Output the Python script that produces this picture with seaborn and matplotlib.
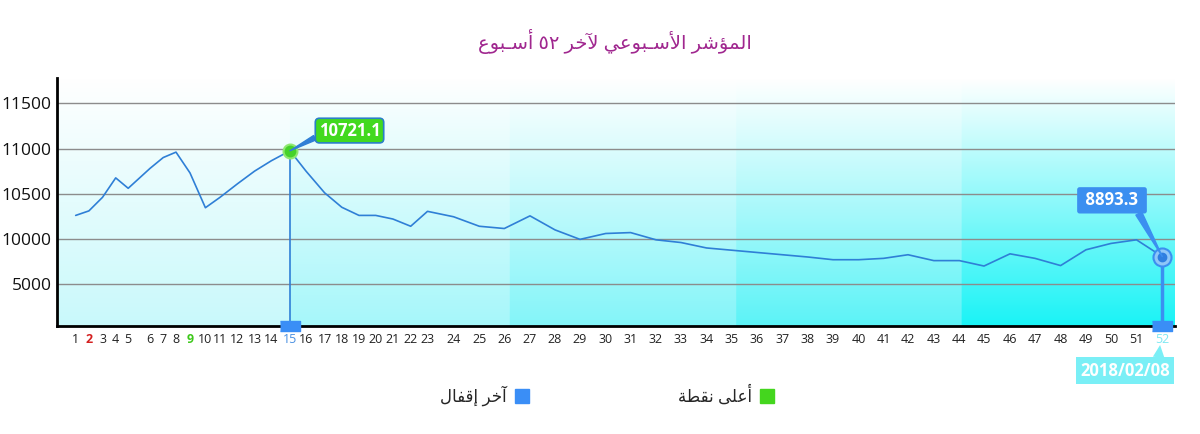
import numpy as np
import pandas as pd
import matplotlib
matplotlib.use("Agg")
import matplotlib.pyplot as plt
import matplotlib.colors as mcolors
from matplotlib.lines import Line2D
import seaborn as sns

# weekly index, last 52 weeks
weeks = list(range(1, 53))
values = [10260, 10310, 10460, 10675, 10560, 10780, 10900, 10960, 10730, 10345,
          10460, 10610, 10750, 10865, 10975, 10750, 10510, 10350, 10260, 10260,
          10220, 10140, 10305, 10245, 10140, 10115, 10255, 10100, 9995, 10060,
          10070, 9990, 9960, 9900, 9875, 9850, 9825, 9800, 9770, 9770,
          9785, 9825, 9760, 9760, 9700, 9835, 9785, 9705, 9880, 9950,
          9990, 9805]
peak_label = "10721.1"
last_label = "8893.3"
last_date = "2018/02/08"
y_ticks = [9500, 10000, 10500, 11000, 11500]
y_labels = ["5000", "10000", "10500", "11000", "11500"]
title = "المؤشر الأسـبوعي لآخر ٥٢ أسـبوع"
legend_labels = ["آخر إقفال", "أعلى نقطة"]

# the source axis is not evenly spaced: where each week sits (px)
week_pos = [75.7, 88.9, 102.5, 115.7, 128.2, 150, 163.2, 176, 190, 205.4,
            220, 237.5, 254.6, 271.4, 290, 306, 324.6, 341.8, 359, 375.7,
            392.9, 410.7, 427.5, 453.6, 479.3, 504.3, 530, 555, 580, 605.7,
            630.6, 656, 681, 706.5, 731.8, 757, 782.4, 807.7, 833, 858.7,
            883.6, 908, 933.8, 959.4, 984, 1010, 1035, 1060.6, 1086, 1111,
            1136.5, 1162.3]
band_starts = [15, 26.2, 35.2, 44.1]
band_colors = ["#c9f9fb", "#a6f7fa", "#84f5f9", "#5cf3f7", "#1af3f6"]


# --- minimal arabic shaping (matplotlib does no joining / rtl) ---
FORMS = {
    "ا": ("\uFE8D", "\uFE8E"), "أ": ("\uFE83", "\uFE84"), "آ": ("\uFE81", "\uFE82"),
    "إ": ("\uFE87", "\uFE88"), "ؤ": ("\uFE85", "\uFE86"), "و": ("\uFEED", "\uFEEE"),
    "ر": ("\uFEAD", "\uFEAE"), "ى": ("\uFEEF", "\uFEF0"), "ة": ("\uFE93", "\uFE94"),
    "ل": ("\uFEDD", "\uFEDE", "\uFEDF", "\uFEE0"), "م": ("\uFEE1", "\uFEE2", "\uFEE3", "\uFEE4"),
    "ش": ("\uFEB5", "\uFEB6", "\uFEB7", "\uFEB8"), "س": ("\uFEB1", "\uFEB2", "\uFEB3", "\uFEB4"),
    "ب": ("\uFE8F", "\uFE90", "\uFE91", "\uFE92"), "ع": ("\uFEC9", "\uFECA", "\uFECB", "\uFECC"),
    "ي": ("\uFEF1", "\uFEF2", "\uFEF3", "\uFEF4"), "خ": ("\uFEA5", "\uFEA6", "\uFEA7", "\uFEA8"),
    "ق": ("\uFED5", "\uFED6", "\uFED7", "\uFED8"), "ف": ("\uFED1", "\uFED2", "\uFED3", "\uFED4"),
    "ن": ("\uFEE5", "\uFEE6", "\uFEE7", "\uFEE8"), "ط": ("\uFEC1", "\uFEC2", "\uFEC3", "\uFEC4"),
    "ـ": ("\u0640",) * 4,
}
LAM_ALEF = {"ا": ("\uFEFB", "\uFEFC"), "أ": ("\uFEF7", "\uFEF8"),
            "آ": ("\uFEF5", "\uFEF6"), "إ": ("\uFEF9", "\uFEFA")}


def shape_word(word):
    if not any(c in FORMS for c in word):
        return word
    chars, i = [], 0
    while i < len(word):
        if word[i] == "ل" and i + 1 < len(word) and word[i + 1] in LAM_ALEF:
            chars.append(("LA", word[i + 1]))
            i += 2
        else:
            chars.append(word[i])
            i += 1
    out = []
    for k, c in enumerate(chars):
        prev = chars[k - 1] if k > 0 else None
        nxt = chars[k + 1] if k + 1 < len(chars) else None
        joins_prev = isinstance(prev, str) and prev in FORMS and len(FORMS[prev]) == 4
        if isinstance(c, tuple):
            out.append(LAM_ALEF[c[1]][1 if joins_prev else 0])
            continue
        if c not in FORMS:
            out.append(c)
            continue
        f = FORMS[c]
        joins_next = len(f) == 4 and nxt is not None and (isinstance(nxt, tuple) or nxt in FORMS)
        if joins_prev and joins_next:
            out.append(f[3])
        elif joins_prev:
            out.append(f[1])
        elif joins_next:
            out.append(f[2])
        else:
            out.append(f[0])
    return "".join(reversed(out))


def ar(text):
    return " ".join(shape_word(w) for w in reversed(text.split(" ")))


# x scale: weeks -> source positions
wk_ext = [-20] + weeks + [72]
px_ext = [week_pos[0] - 21 * 13.2] + week_pos + [week_pos[-1] + 20 * 25.3]


def fwd(w):
    return np.interp(w, wk_ext, px_ext)


def inv(p):
    return np.interp(p, px_ext, wk_ext)


sns.set_style("white")
plt.rcParams["font.family"] = ["Open Sans", "DejaVu Sans"]

df = pd.DataFrame({"week": weeks, "value": values})

fig = plt.figure(figsize=(12, 4.34), dpi=100)
ax = fig.add_axes([57.3 / 1200, 1 - 325.7 / 434, (1175 - 57.3) / 1200, (325.7 - 78) / 434])
ax.set_xscale("function", functions=(fwd, inv))
x0, x1 = float(inv(57.3)), float(inv(1175))
y0, y1 = 9040, 11780

# background: white at top fading into cyan bands
W, H = 1200, 200
cols = np.linspace(fwd(x0), fwd(x1), W)
band = np.searchsorted(fwd(np.array(band_starts)), cols)
rgb = np.array([mcolors.to_rgb(c) for c in band_colors])[band]
t = np.linspace(0, 1, H)[:, None, None]
img = (1 - t) + t * rgb[None, :, :]
ax.imshow(img, extent=(0, 1, 0, 1), transform=ax.transAxes, aspect="auto",
          zorder=0, interpolation="bilinear")

sns.lineplot(data=df, x="week", y="value", color="#2f7fd6", lw=1.2, ax=ax, zorder=3)

ip = int(np.argmax(values))
wp, vp = weeks[ip], values[ip]
wl, vl = weeks[-1], values[-1]

ax.vlines(wp, y0, vp, color="#2f7fd6", lw=1.2, zorder=3)
ax.vlines(wl, y0, vl, color="#3b8ff0", lw=2.5, zorder=3)
rect = [(-1, -0.5), (1, -0.5), (1, 0.5), (-1, 0.5)]
ax.plot([wp, wl], [y0, y0], ls="none", marker=rect, ms=14, color="#3a8ef6",
        clip_on=False, zorder=6)

ax.plot(wp, vp, "o", ms=10, mfc="#45d22a", mec="#8fe870", mew=1.5, zorder=6)
ax.plot(wl, vl, "o", ms=13, mfc="#8ec6f8", mec="#3b8ff0", mew=1.5, zorder=6)
ax.plot(wl, vl, "o", ms=6, color="#2f7fe0", zorder=7)

ax.annotate(peak_label, xy=(wp, vp), xytext=(59.5, 20.2), textcoords="offset pixels",
            ha="center", va="center", color="white", fontsize=12, fontweight="bold",
            bbox=dict(boxstyle="round,pad=0.2,rounding_size=0.25", fc="#42d91f", ec="#2a7fc8", lw=1.2),
            arrowprops=dict(arrowstyle="wedge,tail_width=0.3", fc="#2f7fd6", ec="#2f7fd6",
                            relpos=(0.02, 0.25), shrinkA=0, shrinkB=0),
            zorder=8)
ax.annotate(" " + last_label + " ", xy=(wl, vl), xytext=(-50.3, 56.2), textcoords="offset pixels",
            ha="center", va="center", color="white", fontsize=12, fontweight="bold",
            bbox=dict(boxstyle="round,pad=0.25,rounding_size=0.15", fc="#3b8ff0", ec="none"),
            arrowprops=dict(arrowstyle="wedge,tail_width=0.4", fc="#3b8ff0", ec="#3b8ff0",
                            relpos=(0.9, 0), shrinkA=0, shrinkB=0),
            zorder=8)
ax.annotate(last_date, xy=(wl, y0), xytext=(-37.3, -44.8), textcoords="offset pixels",
            ha="center", va="center", color="white", fontsize=12, fontweight="bold",
            bbox=dict(boxstyle="square,pad=0.25", fc="#7aeff6", ec="none"),
            arrowprops=dict(arrowstyle="wedge,tail_width=0.7", fc="#7aeff6", ec="none",
                            relpos=(0.87, 1), shrinkA=0, shrinkB=14),
            annotation_clip=False, zorder=8)

ax.set_xlim(x0, x1)
ax.set_ylim(y0, y1)
ax.set_xticks(weeks, [str(w) for w in weeks])
ax.set_yticks(y_ticks, y_labels)
ax.tick_params(axis="x", length=0, pad=5, labelsize=9, labelcolor="#222222")
ax.tick_params(axis="y", length=0, pad=4, labelsize=12.5, labelcolor="#111111")
labels = ax.get_xticklabels()
labels[1].set_color("#d42020")
labels[1].set_fontweight("bold")
labels[8].set_color("#3dc81a")
labels[8].set_fontweight("bold")
labels[14].set_color("#4a90e2")
labels[51].set_color("#7ee8f2")
ax.set_xlabel("")
ax.set_ylabel("")

ax.grid(axis="y", color="#8c8c8c", lw=1)
ax.set_axisbelow(True)
ax.spines[["top", "right"]].set_visible(False)
for s in ["left", "bottom"]:
    ax.spines[s].set_color("black")
    ax.spines[s].set_linewidth(2)

fig.text(615 / 1200, 1 - 42 / 434, ar(title), ha="center", va="center",
         color="#a0278f", fontsize=14)

handles = [Line2D([], [], ls="none", marker="s", ms=10, mfc="#3a8ef6", mec="#3a8ef6"),
           Line2D([], [], ls="none", marker="s", ms=10, mfc="#44d61e", mec="#44d61e")]
fig.legend(handles, [ar(l) for l in legend_labels], loc="center",
           bbox_to_anchor=(607 / 1200, 1 - 396 / 434), ncol=2, frameon=False,
           markerfirst=False, fontsize=12, columnspacing=9, handletextpad=0.5,
           handlelength=0.8)

fig.savefig("out.png", dpi=100)
